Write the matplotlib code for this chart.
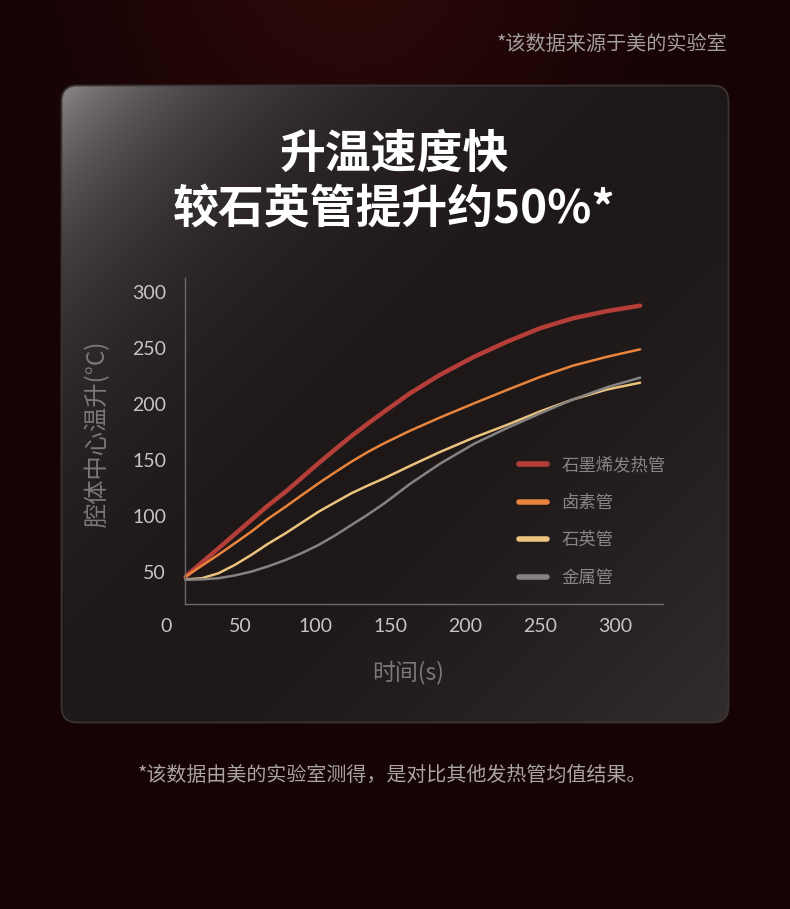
import numpy as np
import matplotlib
matplotlib.use('Agg')
from matplotlib import pyplot as plt
from matplotlib.patches import FancyBboxPatch

plt.rcParams['font.family'] = ['Noto Sans CJK SC', 'DejaVu Sans']

# Data
time_s = [13, 24, 35, 46, 57, 68, 80, 91, 102, 113, 124, 135, 146, 163, 183, 206, 228, 250, 272, 295, 317]
graphene = [45.8, 58.5, 71.0, 83.7, 96.4, 109.1, 121.7, 134.4, 147.1, 159.4, 171.4, 182.5, 193.3,
            209.4, 225.9, 242.2, 255.6, 267.6, 276.5, 283.0, 287.8]
halogen = [45.8, 55.6, 65.4, 75.6, 86.0, 97.3, 108.3, 118.8, 129.2, 139.0, 148.5, 157.2, 165.0,
           176.0, 187.8, 200.6, 212.5, 224.1, 234.2, 242.2, 248.8]
quartz = [43.3, 44.4, 48.8, 56.3, 65.2, 75.0, 84.6, 94.2, 103.8, 112.1, 120.3, 127.2, 133.7,
          144.6, 157.0, 170.1, 181.3, 193.3, 204.0, 213.0, 219.0]
metal = [43.0, 43.4, 44.4, 46.9, 50.3, 54.9, 60.7, 67.0, 74.1, 82.6, 92.0, 101.3, 111.3,
         128.5, 146.5, 164.5, 178.5, 191.5, 204.0, 215.0, 223.5]

series_names = ['石墨烯发热管', '卤素管', '石英管', '金属管']
series_colors = ['#b53f38', '#e8843c', '#ebc27e', '#858282']
series_widths = [3.2, 1.8, 1.8, 1.8]
x_ticks = [0, 50, 100, 150, 200, 250, 300]
y_ticks = [50, 100, 150, 200, 250, 300]

W, H = 790, 909
fig = plt.figure(figsize=(W / 100, H / 100), dpi=100)


def fx(px):
    return px / W


def fy(py):
    return 1 - py / H


# Background
bg = fig.add_axes([0, 0, 1, 1])
bg.set_xlim(0, W)
bg.set_ylim(H, 0)
bg.axis('off')
yy, xx = np.mgrid[0:H, 0:W].astype(float)
glow = np.exp(-((xx - 350) ** 2 + (yy + 40) ** 2) / (2 * 170 ** 2))
back = np.zeros((H, W, 3))
back[..., 0] = 21 + 22 * glow
back[..., 1] = 3 + 6 * glow
back[..., 2] = 5 + 4 * glow
bg.imshow(np.clip(back, 0, 255).astype(np.uint8), extent=(0, W, H, 0), zorder=0)

# Card with diagonal gradient
card = FancyBboxPatch((61.5, 85.5), 667, 637, boxstyle='round,pad=0,rounding_size=16',
                      facecolor='none', edgecolor='#3a3435', linewidth=1.3, zorder=3)
bg.add_patch(card)
r = ((xx - 62) + (yy - 86)) / np.sqrt(2)
light = 112 * np.exp(-np.clip(r, 0, None) / 115)
rmax = (666 + 636) / np.sqrt(2)
light += 22 * np.clip((r - 460) / (rmax - 460), 0, 1) ** 1.5
card_img = np.zeros((H, W, 3))
card_img[..., 0] = 28 + light
card_img[..., 1] = 22 + light
card_img[..., 2] = 23 + light
im = bg.imshow(np.clip(card_img, 0, 255).astype(np.uint8), extent=(0, W, H, 0), zorder=2)
im.set_clip_path(card)

# Texts
fig.text(fx(727), fy(45), '*该数据来源于美的实验室', ha='right', va='center',
         fontsize=14.5, color='#a39d9d')
fig.text(fx(394), fy(155), '升温速度快', ha='center', va='center',
         fontsize=33, fontweight='bold', color='white')
fig.text(fx(394), fy(210), '较石英管提升约50%*', ha='center', va='center',
         fontsize=33, fontweight='bold', color='white')
fig.text(fx(392), fy(775), '*该数据由美的实验室测得，是对比其他发热管均值结果。', ha='center', va='center',
         fontsize=14.4, color='#aaa4a4')

# Chart axes
ax = fig.add_axes([fx(166), fy(604), fx(663) - fx(166), fy(278) - fy(604)])
ax.patch.set_alpha(0)
for name, y, c, lw in zip(series_names, [graphene, halogen, quartz, metal], series_colors, series_widths):
    ax.plot(time_s, y, color=c, linewidth=lw, label=name, solid_capstyle='round',
            solid_joinstyle='round')

ax.set_xlim(0, 332.3)
ax.set_ylim(21.4, 312.5)
ax.spines['top'].set_visible(False)
ax.spines['right'].set_visible(False)
ax.spines['left'].set_position(('data', 13))
ax.spines['bottom'].set_bounds(13, 332.3)
for s in ['left', 'bottom']:
    ax.spines[s].set_color('#6e6969')
    ax.spines[s].set_linewidth(1.0)
ax.set_xticks(x_ticks)
ax.set_yticks(y_ticks)
ax.tick_params(length=0, colors='#c9c4c4', labelsize=14)
ax.tick_params(axis='x', pad=10)
ax.tick_params(axis='y', pad=14)
for lab in ax.get_xticklabels() + ax.get_yticklabels():
    lab.set_family('Lato')

fig.text(fx(408), fy(672), '时间(s)', ha='center', va='center', fontsize=16.5, color='#7d7777')
fig.text(fx(98), fy(434), '腔体中心温升(°C)', ha='center', va='center', rotation=90,
         fontsize=17.5, color='#7d7777')

leg = ax.legend(loc='upper left', bbox_to_anchor=(fx(519), fy(456)), bbox_transform=fig.transFigure,
                frameon=False, fontsize=12.5, handlelength=1.6, handletextpad=0.85,
                labelspacing=1.13, borderpad=0, borderaxespad=0)
for line in leg.get_lines():
    line.set_linewidth(4)
for t in leg.get_texts():
    t.set_color('#8a8484')

fig.savefig('out.png', dpi=100)
